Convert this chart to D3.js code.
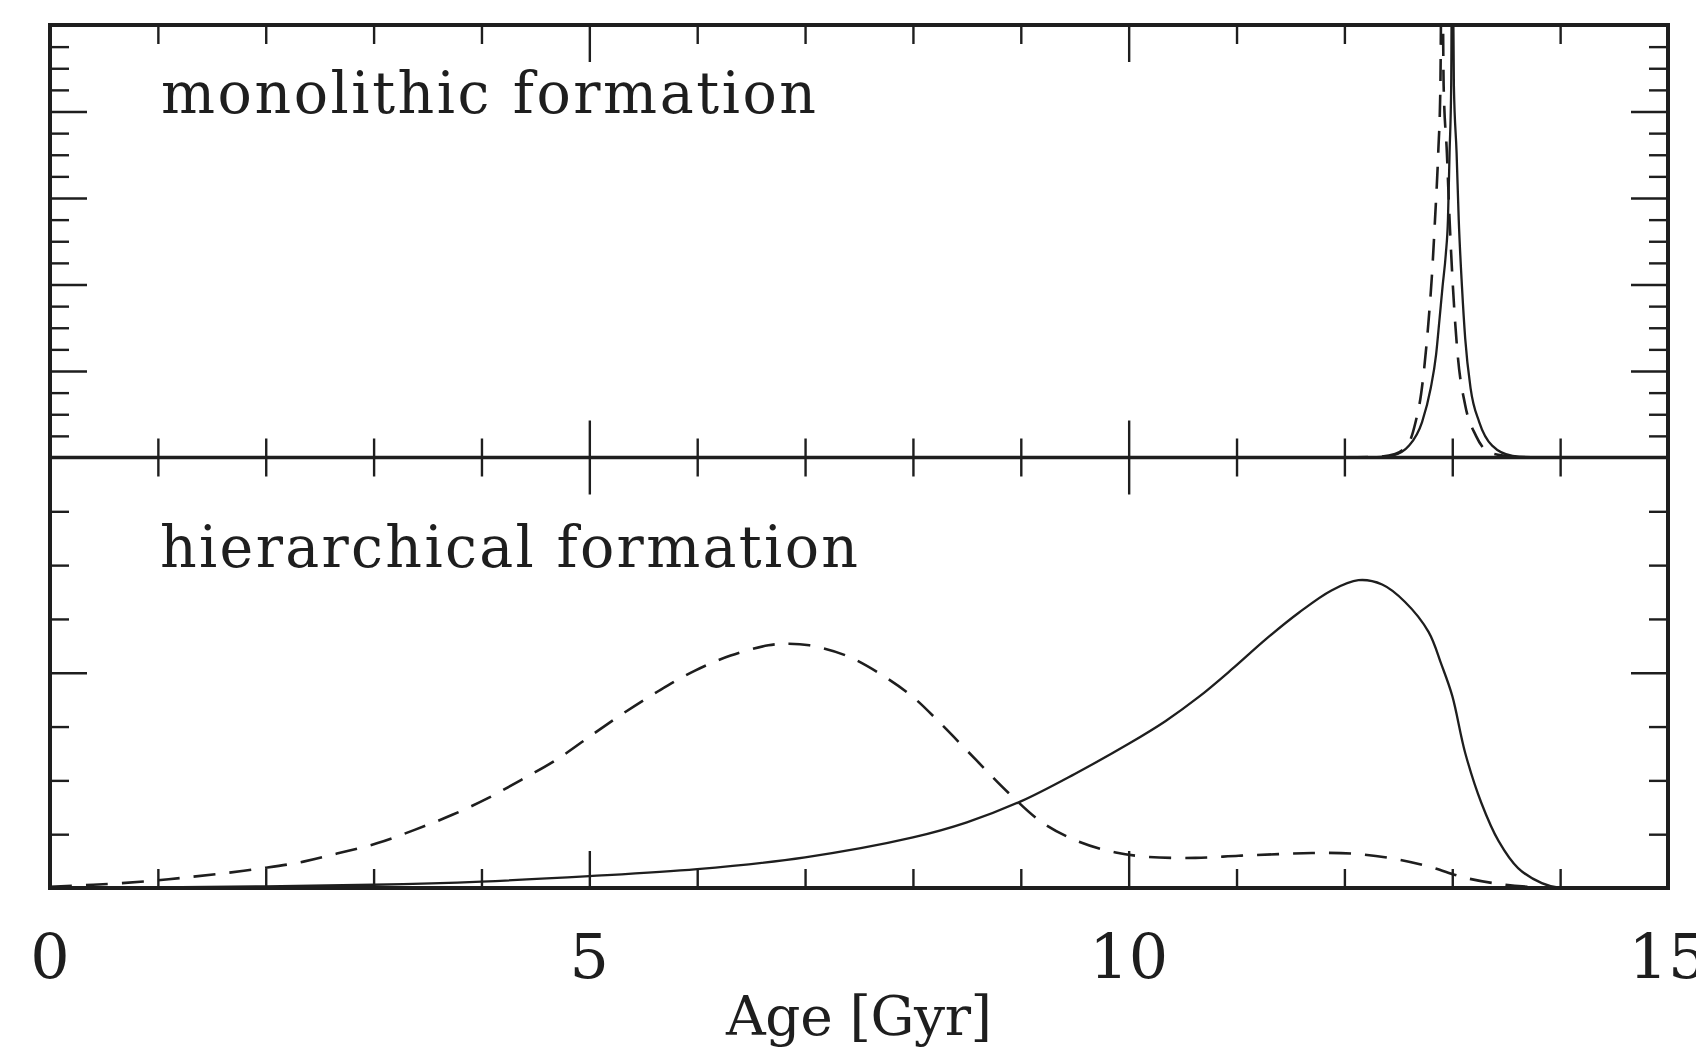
<!DOCTYPE html>
<html>
<head>
<meta charset="utf-8">
<script src="https://cdn.jsdelivr.net/npm/d3@7"></script>
<style>
  html, body { margin: 0; padding: 0; background: #fff; }
  svg { display: block; }
  text { font-family: "DejaVu Serif", "Liberation Serif", serif; fill: #1e1e1e; }
</style>
</head>
<body>
<svg id="chart" width="1696" height="1047"></svg>
<script>
// ---------- data ----------
const xTickLabels = [0, 5, 10, 15];
const xMajorTicks = [5, 10];
const xMinorTicks = [1, 2, 3, 4, 6, 7, 8, 9, 11, 12, 13, 14];
const topMajorTicks = [4, 8, 12, 16];
const topMinorTicks = [1, 2, 3, 5, 6, 7, 9, 10, 11, 13, 14, 15, 17, 18, 19];
const botMajorTicks = [4];
const botMinorTicks = [1, 2, 3, 5, 6, 7];

const panelLabels = ["monolithic formation", "hierarchical formation"];
const xAxisTitle = "Age [Gyr]";

// top panel (monolithic) - solid
const monoSolidAge = [0, 12.0, 12.3, 12.44, 12.6, 12.72, 12.8, 12.85, 12.88, 12.91, 12.94, 12.96, 12.975, 12.99, 13.0, 13.015, 13.04, 13.06, 13.09, 13.12, 13.17, 13.25, 13.37, 13.56, 13.8, 15];
const monoSolidVal = [0, 0, 0.02, 0.08, 0.55, 1.64, 3.2, 4.76, 6.3, 7.9, 9.4, 11.0, 14.1, 17.2, 26, 17.2, 14.1, 11.0, 7.9, 5.5, 3.2, 1.64, 0.55, 0.08, 0.01, 0];
// top panel (monolithic) - dashed
const monoDashAge = [0, 12.0, 12.3, 12.47, 12.6, 12.66, 12.71, 12.78, 12.81, 12.84, 12.87, 12.89, 12.905, 12.92, 12.95, 12.975, 13.006, 13.05, 13.12, 13.22, 13.34, 13.49, 13.7, 15];
const monoDashVal = [0, 0, 0.03, 0.16, 0.7, 1.64, 2.9, 6.3, 8.3, 11.0, 14.1, 17.2, 26, 17.2, 14.1, 11.0, 7.9, 4.76, 2.42, 1.0, 0.24, 0.08, 0.01, 0];

// bottom panel (hierarchical) - solid
const hierSolidAge = [0, 1, 2, 3, 4, 5, 6, 7, 8, 8.5, 9, 9.5, 10.0, 10.34, 10.65, 10.96, 11.27, 11.58, 11.88, 12.13, 12.35, 12.56, 12.78, 12.9, 13.0, 13.12, 13.27, 13.43, 13.61, 13.83, 14.0, 15];
const hierSolidVal = [0, 0.01, 0.03, 0.06, 0.12, 0.22, 0.35, 0.57, 0.94, 1.22, 1.61, 2.12, 2.68, 3.10, 3.55, 4.07, 4.62, 5.12, 5.53, 5.72, 5.64, 5.32, 4.76, 4.15, 3.57, 2.51, 1.58, 0.87, 0.37, 0.09, 0, 0];
// bottom panel (hierarchical) - dashed
const hierDashAge = [0, 0.4, 0.87, 1.23, 1.6, 1.98, 2.35, 2.66, 3.03, 3.38, 3.73, 4.06, 4.37, 4.7, 5.0, 5.31, 5.65, 5.98, 6.31, 6.66, 6.85, 7.04, 7.38, 7.72, 8.0, 8.26, 8.59, 8.89, 9.21, 9.54, 9.88, 10.17, 10.62, 11.02, 11.39, 11.7, 12.07, 12.44, 12.78, 13.12, 13.49, 13.83, 14.0, 15];
const hierDashVal = [0.02, 0.06, 0.12, 0.19, 0.27, 0.37, 0.49, 0.64, 0.83, 1.08, 1.36, 1.67, 2.01, 2.39, 2.81, 3.24, 3.67, 4.04, 4.32, 4.51, 4.54, 4.51, 4.32, 3.95, 3.55, 3.05, 2.37, 1.76, 1.20, 0.86, 0.66, 0.58, 0.56, 0.60, 0.63, 0.65, 0.64, 0.55, 0.40, 0.19, 0.06, 0.01, 0, 0];

// ---------- layout ----------
const X0 = 50, X1 = 1668, YT = 25, YM = 457.5, YB = 888;
const INK = "#1e1e1e";
const MINOR = 19, MAJOR = 37;

const svg = d3.select("#chart");
const x = d3.scaleLinear().domain([0, 15]).range([X0, X1]);
const yTop = d3.scaleLinear().domain([0, 20]).range([YM, YT]);
const yBot = d3.scaleLinear().domain([0, 8]).range([YB, YM]);

function tickAxis(axisFn, scale, values, size, tx, ty) {
  const g = svg.append("g")
    .attr("transform", `translate(${tx},${ty})`)
    .attr("color", INK)
    .call(axisFn(scale).tickValues(values).tickSize(size).tickFormat(""));
  g.select(".domain").remove();
  g.selectAll(".tick line").attr("stroke-width", 2.4);
  return g;
}

// left/right ticks top panel
tickAxis(d3.axisRight, yTop, topMinorTicks, MINOR, X0, 0);
tickAxis(d3.axisRight, yTop, topMajorTicks, MAJOR, X0, 0);
tickAxis(d3.axisLeft, yTop, topMinorTicks, MINOR, X1, 0);
tickAxis(d3.axisLeft, yTop, topMajorTicks, MAJOR, X1, 0);
// left/right ticks bottom panel
tickAxis(d3.axisRight, yBot, botMinorTicks, MINOR, X0, 0);
tickAxis(d3.axisRight, yBot, botMajorTicks, MAJOR, X0, 0);
tickAxis(d3.axisLeft, yBot, botMinorTicks, MINOR, X1, 0);
tickAxis(d3.axisLeft, yBot, botMajorTicks, MAJOR, X1, 0);
// top edge
tickAxis(d3.axisBottom, x, xMinorTicks, MINOR, 0, YT);
tickAxis(d3.axisBottom, x, xMajorTicks, MAJOR, 0, YT);
// middle axis, both sides
tickAxis(d3.axisBottom, x, xMinorTicks, MINOR, 0, YM);
tickAxis(d3.axisBottom, x, xMajorTicks, MAJOR, 0, YM);
tickAxis(d3.axisTop, x, xMinorTicks, MINOR, 0, YM);
tickAxis(d3.axisTop, x, xMajorTicks, MAJOR, 0, YM);
// bottom edge
tickAxis(d3.axisTop, x, xMinorTicks, MINOR, 0, YB);
tickAxis(d3.axisTop, x, xMajorTicks, MAJOR, 0, YB);

// clip paths
const defs = svg.append("defs");
defs.append("clipPath").attr("id", "clipTop").append("rect")
  .attr("x", X0).attr("y", YT).attr("width", X1 - X0).attr("height", YM - YT);
defs.append("clipPath").attr("id", "clipBot").append("rect")
  .attr("x", X0).attr("y", YM).attr("width", X1 - X0).attr("height", YB - YM);

function drawCurve(ages, vals, yScale, clip, dashed, curve) {
  const pts = ages.map((a, i) => [a, vals[i]]);
  const line = d3.line().x(d => x(d[0])).y(d => yScale(d[1])).curve(curve);
  svg.append("path")
    .attr("clip-path", `url(#${clip})`)
    .attr("d", line(pts))
    .attr("fill", "none")
    .attr("stroke", INK)
    .attr("stroke-width", dashed ? 2.6 : 2.3)
    .attr("stroke-dasharray", dashed ? "22,14" : null)
    .attr("stroke-linejoin", "round");
}

drawCurve(monoDashAge, monoDashVal, yTop, "clipTop", true, d3.curveMonotoneX);
drawCurve(monoSolidAge, monoSolidVal, yTop, "clipTop", false, d3.curveMonotoneX);
drawCurve(hierDashAge, hierDashVal, yBot, "clipBot", true, d3.curveCatmullRom.alpha(0.5));
drawCurve(hierSolidAge, hierSolidVal, yBot, "clipBot", false, d3.curveCatmullRom.alpha(0.5));

// frame and middle axis
svg.append("rect")
  .attr("x", X0).attr("y", YT).attr("width", X1 - X0).attr("height", YB - YT)
  .attr("fill", "none").attr("stroke", INK).attr("stroke-width", 4);
svg.append("line")
  .attr("x1", X0).attr("x2", X1).attr("y1", YM).attr("y2", YM)
  .attr("stroke", INK).attr("stroke-width", 3.6);

// tick labels
svg.append("g").selectAll("text").data(xTickLabels).join("text")
  .attr("x", d => x(d)).attr("y", 978)
  .attr("text-anchor", "middle")
  .attr("font-size", 62)
  .text(d => d);

// axis title
svg.append("text")
  .attr("x", (X0 + X1) / 2).attr("y", 1035)
  .attr("text-anchor", "middle")
  .attr("font-size", 55)
  .attr("textLength", 266).attr("lengthAdjust", "spacing")
  .text(xAxisTitle);

// panel labels
svg.append("text")
  .attr("x", 161).attr("y", 113)
  .attr("font-size", 57)
  .attr("textLength", 655).attr("lengthAdjust", "spacing")
  .text(panelLabels[0]);
svg.append("text")
  .attr("x", 160).attr("y", 567)
  .attr("font-size", 57)
  .attr("textLength", 698).attr("lengthAdjust", "spacing")
  .text(panelLabels[1]);
</script>
</body>
</html>
